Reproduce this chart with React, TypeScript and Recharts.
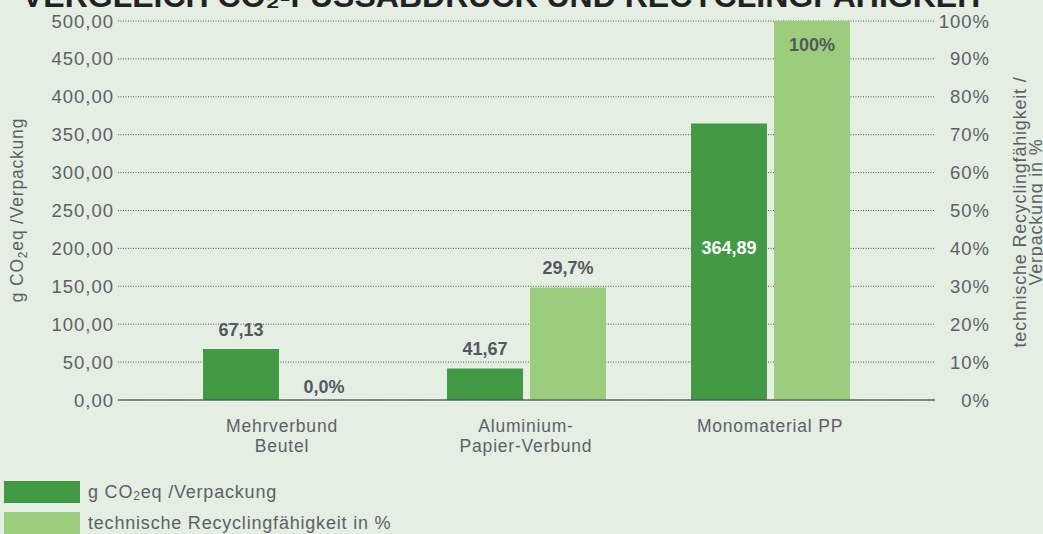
import React from "react";
import { BarChart, Bar, XAxis, YAxis, CartesianGrid, LabelList } from "recharts";

const categories = ["Mehrverbund\nBeutel", "Aluminium-\nPapier-Verbund", "Monomaterial PP"];
const co2Values = [67.13, 41.67, 364.89];
const recyclingValues = [0.0, 29.7, 100];
const leftTicks = [0, 50, 100, 150, 200, 250, 300, 350, 400, 450, 500];
const rightTicks = [0, 10, 20, 30, 40, 50, 60, 70, 80, 90, 100];

const titleText = "VERGLEICH CO₂-FUSSABDRUCK UND RECYCLINGFÄHIGKEIT";
const recyclingName = "technische Recyclingfähigkeit in %";

const data = categories.map((c, i) => ({ name: c, co2: co2Values[i], rec: recyclingValues[i] }));

const BG = "#e4eee3";
const DARK = "#439a44";
const LIGHT = "#9bcd7c";
const TXT = "#5d6167";
const LBL = "#55595f";
const FONT = "'Liberation Sans', Arial, Helvetica, sans-serif";

const fmtDe = (v: number) => v.toFixed(2).replace(".", ",");
const fmtPct = (v: number) => (v === 100 ? "100%" : v.toFixed(1).replace(".", ",") + "%");

const LeftTick = (props: any) => {
  const { x, y, payload } = props;
  return (
    <text x={x} y={y} textAnchor="end" dominantBaseline="central" fill={TXT} fontSize={18.5} letterSpacing={1} fontFamily={FONT}>
      {fmtDe(payload.value)}
    </text>
  );
};

const RightTick = (props: any) => {
  const { x, y, payload } = props;
  return (
    <text x={x + 55} y={y} textAnchor="end" dominantBaseline="central" fill={TXT} fontSize={18.5} letterSpacing={1} fontFamily={FONT}>
      {payload.value + "%"}
    </text>
  );
};

const XTick = (props: any) => {
  const { x, y, payload } = props;
  const lines = String(payload.value).split("\n");
  return (
    <text x={x} y={y} textAnchor="middle" fill={TXT} fontSize={17.5} letterSpacing={0.8} fontFamily={FONT}>
      {lines.map((l, i) => (
        <tspan key={i} x={x} y={y + 30 + i * 19.5}>
          {l}
        </tspan>
      ))}
    </text>
  );
};

const Co2Label = (props: any) => {
  const { x, y, width, height, value } = props;
  const inside = height > 200;
  return (
    <text
      x={x + width / 2}
      y={inside ? y + height * 0.45 : y - 19}
      textAnchor="middle"
      dominantBaseline="central"
      fill={inside ? "#ffffff" : LBL}
      fontSize={18}
      fontWeight="bold"
      fontFamily={FONT}
    >
      {fmtDe(Number(value))}
    </text>
  );
};

const RecLabel = (props: any) => {
  const { x, y, width, height, value } = props;
  const inside = height > 200;
  const v = Number(value);
  const ty = inside ? y + 24 : height < 1 ? y - 13 : y - 19;
  return (
    <text x={x + width / 2} y={ty} textAnchor="middle" dominantBaseline="central" fill={LBL} fontSize={18} fontWeight="bold" fontFamily={FONT}>
      {fmtPct(v)}
    </text>
  );
};

export default function App() {
  return (
    <div style={{ position: "absolute", left: 0, top: 0, width: 1043, height: 534, background: BG, overflow: "hidden", fontFamily: FONT }}>
      <div style={{ position: "absolute", left: 0, top: 0 }}>
        <BarChart
          width={1043}
          height={534}
          data={data}
          margin={{ top: 21, right: 48, left: 58, bottom: 104 }}
          barSize={76}
          barGap={7}
        >
          <CartesianGrid vertical={false} stroke="#555" strokeDasharray="1 1.5" yAxisId="left" />
          <XAxis
            dataKey="name"
            height={30}
            padding={{ left: 42, right: 43 }}
            axisLine={{ stroke: "#3f4246", strokeWidth: 1.2 }}
            tickLine={false}
            tickSize={0}
            tick={<XTick />}
            interval={0}
          />
          <YAxis
            yAxisId="left"
            orientation="left"
            width={60}
            domain={[0, 500]}
            ticks={leftTicks}
            axisLine={false}
            tickLine={false}
            tickSize={0}
            tickMargin={4}
            tick={<LeftTick />}
            interval={0}
          />
          <YAxis
            yAxisId="right"
            orientation="right"
            width={60}
            domain={[0, 100]}
            ticks={rightTicks}
            axisLine={false}
            tickLine={false}
            tickSize={0}
            tickMargin={0}
            tick={<RightTick />}
            interval={0}
          />
          <Bar dataKey="co2" yAxisId="left" fill={DARK} isAnimationActive={false}>
            <LabelList dataKey="co2" content={<Co2Label />} />
          </Bar>
          <Bar dataKey="rec" yAxisId="right" fill={LIGHT} minPointSize={0.01} isAnimationActive={false}>
            <LabelList dataKey="rec" content={<RecLabel />} />
          </Bar>
        </BarChart>
      </div>
      <svg width={1043} height={534} style={{ position: "absolute", left: 0, top: 0, pointerEvents: "none" }}>
        <text x={22} y={7} fill="#222" fontSize={32} fontWeight="bold" fontFamily={FONT}>
          {titleText}
        </text>
        <text
          transform="translate(23,210) rotate(-90)"
          textAnchor="middle"
          fill={TXT}
          fontSize={17.5}
          letterSpacing={0.8}
          fontFamily={FONT}
        >
          g CO<tspan fontSize={12} dy={4}>2</tspan>
          <tspan dy={-4}>eq /Verpackung</tspan>
        </text>
        <text transform="translate(1026,212) rotate(-90)" textAnchor="middle" fill={TXT} fontSize={18} letterSpacing={0.8} fontFamily={FONT}>
          technische Recyclingfähigkeit /
        </text>
        <text transform="translate(1042,212) rotate(-90)" textAnchor="middle" fill={TXT} fontSize={18} letterSpacing={0.8} fontFamily={FONT}>
          Verpackung in %
        </text>
        <rect x={4} y={481} width={76} height={22} fill={DARK} />
        <text x={88} y={492} dominantBaseline="central" fill={TXT} fontSize={18} letterSpacing={0.8} fontFamily={FONT}>
          g CO<tspan fontSize={12} dy={4}>2</tspan>
          <tspan dy={-4}>eq /Verpackung</tspan>
        </text>
        <rect x={4} y={512} width={76} height={22} fill={LIGHT} />
        <text x={88} y={523} dominantBaseline="central" fill={TXT} fontSize={18} letterSpacing={0.8} fontFamily={FONT}>
          {recyclingName}
        </text>
      </svg>
    </div>
  );
}
